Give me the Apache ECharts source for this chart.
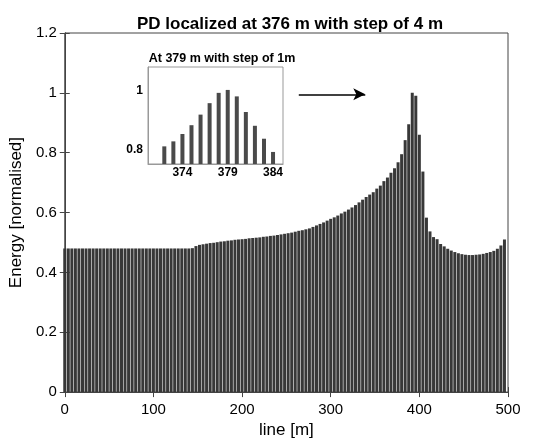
<!DOCTYPE html>
<html>
<head>
<meta charset="utf-8">
<script src="https://cdn.jsdelivr.net/npm/echarts@6/dist/echarts.min.js"></script>
<style>
  html, body { margin: 0; padding: 0; background: #fff; }
  #chart { width: 540px; height: 444px; }
</style>
</head>
<body>
<div id="chart"></div>
<script>
// main scan, step of 4 m
const lineX = [
  0, 4, 8, 12, 16, 20, 24, 28, 32, 36, 40, 44, 48, 52, 56, 60, 64, 68, 72, 76,
  80, 84, 88, 92, 96, 100, 104, 108, 112, 116, 120, 124, 128, 132, 136, 140, 144, 148, 152, 156,
  160, 164, 168, 172, 176, 180, 184, 188, 192, 196, 200, 204, 208, 212, 216, 220, 224, 228, 232, 236,
  240, 244, 248, 252, 256, 260, 264, 268, 272, 276, 280, 284, 288, 292, 296, 300, 304, 308, 312, 316,
  320, 324, 328, 332, 336, 340, 344, 348, 352, 356, 360, 364, 368, 372, 376, 380, 384, 388, 392, 396,
  400, 404, 408, 412, 416, 420, 424, 428, 432, 436, 440, 444, 448, 452, 456, 460, 464, 468, 472, 476,
  480, 484, 488, 492, 496
]
const energy = [
  0.48, 0.48, 0.48, 0.48, 0.48, 0.48, 0.48, 0.48, 0.48, 0.48, 0.48, 0.48, 0.48, 0.48, 0.48, 0.48, 0.48, 0.48, 0.48, 0.48,
  0.48, 0.48, 0.48, 0.48, 0.48, 0.48, 0.48, 0.48, 0.48, 0.48, 0.48, 0.48, 0.48, 0.48, 0.48, 0.48, 0.481, 0.488, 0.492, 0.494,
  0.496, 0.498, 0.499, 0.501, 0.503, 0.504, 0.506, 0.507, 0.509, 0.510, 0.511, 0.512, 0.514, 0.515, 0.516, 0.517, 0.519, 0.520, 0.522, 0.523,
  0.525, 0.527, 0.529, 0.531, 0.533, 0.536, 0.539, 0.541, 0.544, 0.547, 0.552, 0.557, 0.562, 0.567, 0.573, 0.579, 0.584, 0.590, 0.597, 0.603,
  0.610, 0.617, 0.625, 0.634, 0.643, 0.652, 0.660, 0.668, 0.680, 0.690, 0.705, 0.717, 0.733, 0.748, 0.768, 0.795, 0.842, 0.895, 1.0, 0.99,
  0.86, 0.737, 0.583, 0.537, 0.518, 0.511, 0.495, 0.487, 0.479, 0.473, 0.468, 0.464, 0.461, 0.459, 0.458, 0.458, 0.459, 0.460, 0.462, 0.465,
  0.468, 0.472, 0.479, 0.490, 0.51
]

// zoom around the peak, step of 1 m
const zoomX = [372, 373, 374, 375, 376, 377, 378, 379, 380, 381, 382, 383, 384]
const zoomEnergy = [0.810, 0.827, 0.852, 0.882, 0.918, 0.957, 0.992, 1.002, 0.980, 0.927, 0.880, 0.836, 0.791]
const zoomTicks = [374, 379, 384]
const zoomYTicks = [0.8, 1]

const font = 'Liberation Sans, Arial, sans-serif'

const chart = echarts.init(document.getElementById('chart'))

chart.setOption({
  animation: false,
  textStyle: { fontFamily: font },
  title: [{
    text: 'PD localized at 376 m with step of 4 m',
    left: 285,
    top: 11,
    textAlign: 'center',
    textStyle: { fontSize: 17, fontWeight: 'bold', color: '#000', fontFamily: font }
  }, {
    text: 'At 379 m with step of 1m',
    left: 217,
    top: 47,
    textAlign: 'center',
    textStyle: { fontSize: 12.5, fontWeight: 'bold', color: '#000', fontFamily: font }
  }],
  grid: [
    { left: 63, right: 32, top: 33, bottom: 49, show: true, borderColor: '#444', borderWidth: 1 },
    { left: 148, top: 67, width: 135, height: 97, show: true, borderColor: '#999', borderWidth: 1, backgroundColor: '#fff', z: 10 }
  ],
  xAxis: [{
    type: 'value',
    gridIndex: 0,
    min: 0,
    max: 500,
    interval: 100,
    name: 'line [m]',
    nameLocation: 'middle',
    nameGap: 27,
    nameTextStyle: { fontSize: 17, color: '#000', fontFamily: font },
    axisLine: { lineStyle: { color: '#444' } },
    axisTick: { inside: true, length: 5, lineStyle: { color: '#444' } },
    axisLabel: { fontSize: 15, color: '#000', margin: 10 },
    splitLine: { show: false }
  }, {
    type: 'value',
    gridIndex: 0,
    position: 'top',
    min: 0,
    max: 500,
    interval: 100,
    axisLine: { lineStyle: { color: '#444' } },
    axisTick: { inside: true, length: 5, lineStyle: { color: '#444' } },
    axisLabel: { show: false },
    splitLine: { show: false }
  }, {
    type: 'value',
    gridIndex: 1,
    min: 370.2,
    max: 385.1,
    axisLine: { lineStyle: { color: '#999' } },
    axisTick: { inside: true, length: 3, customValues: zoomTicks, lineStyle: { color: '#999' } },
    axisLabel: { customValues: zoomTicks, fontSize: 12, fontWeight: 'bold', color: '#000', margin: 3 },
    splitLine: { show: false },
    z: 10
  }],
  yAxis: [{
    type: 'value',
    gridIndex: 0,
    min: 0,
    max: 1.2,
    interval: 0.2,
    name: 'Energy [normalised]',
    nameLocation: 'middle',
    nameGap: 34,
    nameTextStyle: { fontSize: 17, color: '#000', fontFamily: font },
    axisLine: { show: true, lineStyle: { color: '#444' } },
    axisTick: { show: true, inside: true, length: 5, lineStyle: { color: '#444' } },
    axisLabel: {
      fontSize: 15,
      color: '#000',
      margin: 8,
      formatter: v => String(Math.round(v * 10) / 10)
    },
    splitLine: { show: false }
  }, {
    type: 'value',
    gridIndex: 0,
    position: 'right',
    min: 0,
    max: 1.2,
    interval: 0.2,
    axisLine: { show: true, lineStyle: { color: '#444' } },
    axisTick: { show: true, inside: true, length: 5, lineStyle: { color: '#444' } },
    axisLabel: { show: false },
    splitLine: { show: false }
  }, {
    type: 'value',
    gridIndex: 1,
    min: 0.75,
    max: 1.08,
    axisLine: { show: true, lineStyle: { color: '#999' } },
    axisTick: { show: false },
    axisLabel: { customValues: zoomYTicks, fontSize: 12, fontWeight: 'bold', color: '#000', margin: 5 },
    splitLine: { show: false },
    z: 10
  }],
  series: [{
    type: 'bar',
    xAxisIndex: 0,
    yAxisIndex: 0,
    data: lineX.map((x, i) => [x, energy[i]]),
    barWidth: 3,
    itemStyle: { color: '#383838' },
    markLine: {
      silent: true,
      symbol: ['none', 'arrow'],
      symbolSize: [9, 12],
      label: { show: false },
      lineStyle: { color: '#000', width: 1.5, type: 'solid' },
      data: [[{ coord: [264, 0.995] }, { coord: [339, 0.995] }]]
    }
  }, {
    type: 'bar',
    xAxisIndex: 2,
    yAxisIndex: 2,
    data: zoomX.map((x, i) => [x, zoomEnergy[i]]),
    barWidth: 4,
    itemStyle: { color: '#4a4a4a' },
    z: 11
  }]
})
</script>
</body>
</html>
